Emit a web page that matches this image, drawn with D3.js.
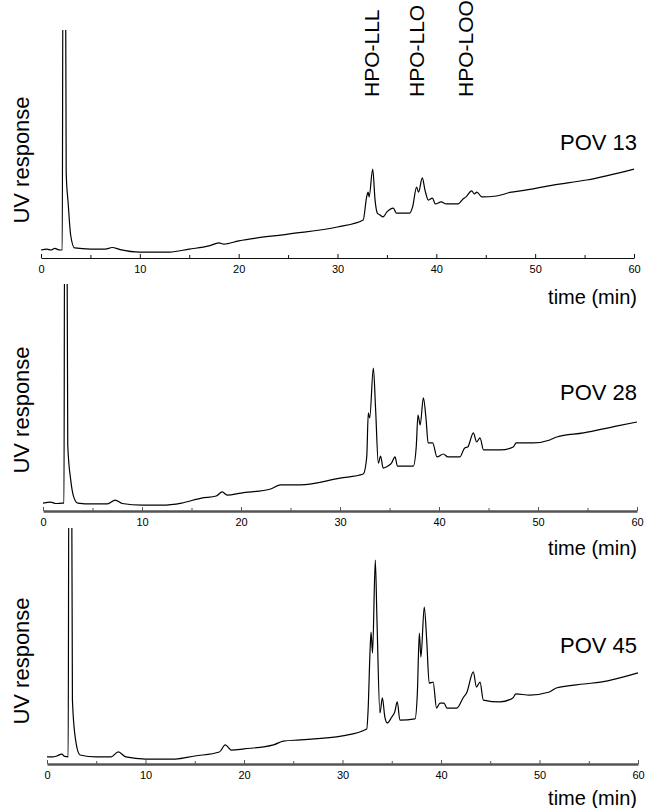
<!DOCTYPE html>
<html>
<head>
<meta charset="utf-8">
<script src="https://cdn.jsdelivr.net/npm/d3@7"></script>
<style>
  body { margin: 0; background: #fff; }
  svg { display: block; font-family: "Liberation Sans", Arial, sans-serif; }
</style>
</head>
<body>
<svg class="chrom"></svg>
<script>
const size = {w: 645, h: 808};

// [retention time (min), UV response (arb. units, 100 = top of panel)]
// the solvent peak near 2.3 min runs off scale, it is clipped like the original
const pov13 = [[0,3.5],[0.6,3.9],[1.0,3.5],[1.4,4.2],[1.8,3.6],[2.15,3.5],[2.22,130],[2.48,130],[2.55,37.3],[2.75,24],
  [3.0,10.1],[3.4,4.4],[5,3.9],[6.5,3.9],[7.2,4.6],[8,3.7],[10,2.6],[13,2.6],[15,3.9],[17,5.3],[18,6.6],[18.5,6.1],
  [20,7.5],[25,10.5],[30,13.6],[32.6,16.7],[32.95,26.8],[33.1,28.9],[33.2,26.8],[33.56,39.0],[33.8,25.4],[34.03,19.7],
  [34.3,18.9],[34.6,18.0],[35.0,20.2],[35.65,21.9],[35.95,19.7],[37.3,19.7],[37.6,22.4],[38.0,31.1],[38.2,28.9],
  [38.58,35.1],[38.85,29.8],[39.2,25.4],[39.6,26.3],[39.9,23.7],[40.5,24.6],[41.0,23.7],[42.2,23.7],[42.7,25.9],
  [43.0,26.8],[43.58,29.4],[43.85,28.1],[44.1,28.9],[44.6,26.8],[46.1,27.2],[47.6,28.9],[48.5,29.4],[51.8,32.0],
  [55.2,34.2],[60,39.0]];

const pov28 = [[0,3.5],[0.8,3.9],[1.3,3.3],[2.0,3.5],[2.12,3.5],[2.18,130],[2.42,130],[2.5,29.1],[2.8,13.7],[3.1,6.2],
  [3.5,3.5],[5,3.1],[6.5,3.1],[7.3,4.8],[8,3.3],[10,2.6],[12,2.6],[14,3.5],[16,5.7],[17.5,6.6],[18.1,8.4],[18.6,7.0],
  [20,7.9],[23,9.7],[24,11.5],[26,11.5],[30,14.5],[32.35,16.3],[32.7,23.8],[32.86,43.2],[33.0,41.0],[33.37,63.0],
  [33.6,44.5],[33.87,21.1],[34.1,24.2],[34.36,18.9],[34.85,19.8],[35.2,21.1],[35.56,23.8],[35.8,19.8],[37.4,19.8],
  [37.7,28.2],[37.88,42.3],[38.1,37.9],[38.42,49.8],[38.7,40.1],[38.9,30.0],[39.36,30.0],[39.8,23.8],[40.44,25.1],
  [40.9,23.8],[42.1,23.8],[42.6,27.8],[42.9,28.2],[43.47,34.4],[43.8,30.4],[44.14,32.2],[44.5,26.9],[46.2,26.9],
  [47.5,28.2],[47.8,30.0],[49.5,30.0],[51.2,31.3],[51.9,32.6],[54.6,34.4],[57.9,37.4],[60,39.2]];

const pov45 = [[0,3.0],[0.6,3.0],[1.0,3.4],[1.5,4.2],[1.8,3.2],[2.15,3.0],[2.22,130],[2.5,130],[2.58,27.1],[2.9,10.2],
  [3.35,3.8],[5,3.0],[6.5,3.0],[7.24,5.1],[8,3.0],[10,2.1],[13,2.1],[15,3.4],[17.5,5.1],[18.1,8.1],[18.7,5.9],
  [20,6.4],[23,8.1],[24,9.7],[25.7,10.2],[30,11.9],[32.46,14.8],[32.6,22.9],[32.8,48.3],[32.9,55.9],[33.05,47.0],
  [33.33,86.4],[33.5,61.0],[33.8,21.6],[34.05,28.0],[34.3,19.9],[34.55,17.4],[35.0,19.9],[35.3,22.0],[35.56,26.3],
  [35.83,18.6],[37.36,19.1],[37.6,30.1],[37.8,55.5],[37.96,45.3],[38.3,66.5],[38.55,52.5],[38.8,34.3],[39.2,34.7],
  [39.55,23.7],[39.9,25.8],[40.3,25.8],[40.6,23.7],[41.6,23.7],[42.3,28.4],[42.6,30.1],[43.28,39.0],[43.6,32.6],
  [43.96,34.7],[44.3,27.1],[46.0,26.3],[47.3,28.0],[47.6,29.7],[49.0,29.2],[51.0,30.5],[51.7,32.2],[54.5,33.9],
  [56.2,34.7],[60,38.6]];

const panelNames = ['POV 13', 'POV 28', 'POV 45'];
const peakNames = ['HPO-LLL', 'HPO-LLO', 'HPO-LOO'];
const peakTimes = [33.4, 38.0, 42.9];
const majorTicks = [0, 10, 20, 30, 40, 50, 60];
const minorTicks = [5, 15, 25, 35, 45, 55];

// pixel layout of the three stacked panels
const panels = [
  {data: pov13, x0: 41, x1: 634, axisY: 258, top: 30,  povY: 150, uvY: 160, timeY: 304, axisW: 1.2, axisC: '#111'},
  {data: pov28, x0: 43, x1: 637, axisY: 511, top: 284, povY: 400, uvY: 410, timeY: 555, axisW: 2.4, axisC: '#555'},
  {data: pov45, x0: 47, x1: 638, axisY: 764, top: 528, povY: 653, uvY: 661, timeY: 805, axisW: 2.4, axisC: '#555'}
];
const peakLabelBottom = 97;

const svg = d3.select('svg.chrom')
  .attr('width', size.w)
  .attr('height', size.h);

panels.forEach((p, i) => {
  const g = svg.append('g').classed('panel', true);

  const x = d3.scaleLinear().domain([0, 60]).range([p.x0, p.x1]);
  const y = d3.scaleLinear().domain([0, 100]).range([p.axisY, p.top]);

  // clip so the big solvent peak is cut at the panel top
  g.append('clipPath').attr('id', 'clip' + i)
    .append('rect')
    .attr('x', p.x0 - 2).attr('y', p.top)
    .attr('width', p.x1 - p.x0 + 4).attr('height', p.axisY - p.top);

  const line = d3.line()
    .x(d => x(d[0]))
    .y(d => y(d[1]))
    .curve(d3.curveMonotoneX);

  g.append('path')
    .datum(p.data)
    .attr('clip-path', `url(#clip${i})`)
    .attr('d', line)
    .attr('fill', 'none')
    .attr('stroke', '#000')
    .attr('stroke-width', 1.2)
    .attr('stroke-linejoin', 'round');

  // minor ticks (no labels)
  const minor = g.append('g')
    .attr('transform', `translate(0,${p.axisY})`)
    .call(d3.axisBottom(x).tickValues(minorTicks).tickSizeInner(-3).tickSizeOuter(0).tickFormat(''));
  minor.select('.domain').remove();
  minor.selectAll('line').attr('stroke', p.axisC);

  // main axis, ticks pointing up into the plot
  const axis = g.append('g')
    .attr('transform', `translate(0,${p.axisY})`)
    .call(d3.axisBottom(x).tickValues(majorTicks).tickSizeInner(-4).tickSizeOuter(0).tickPadding(7));
  axis.select('.domain').attr('stroke', p.axisC).attr('stroke-width', p.axisW);
  axis.selectAll('line').attr('stroke', p.axisC);
  axis.selectAll('text')
    .attr('font-family', '"Liberation Sans", Arial, sans-serif')
    .attr('font-size', 11)
    .attr('fill', '#000');

  g.append('text')
    .attr('x', 637).attr('y', p.timeY)
    .attr('text-anchor', 'end')
    .attr('font-size', 20)
    .text('time (min)');

  g.append('text')
    .attr('transform', `translate(29,${p.uvY}) rotate(-90)`)
    .attr('text-anchor', 'middle')
    .attr('font-size', 22)
    .text('UV response');

  g.append('text')
    .attr('x', 637).attr('y', p.povY)
    .attr('text-anchor', 'end')
    .attr('font-size', 22)
    .text(panelNames[i]);

  // peak names only on the top panel
  if (i === 0) {
    g.selectAll('text.peak')
      .data(peakNames)
      .join('text')
      .classed('peak', true)
      .attr('transform', (d, k) => `translate(${x(peakTimes[k])},${peakLabelBottom}) rotate(-90)`)
      .attr('dy', '0.36em')
      .attr('text-anchor', 'start')
      .attr('font-size', 21)
      .text(d => d);
  }
});
</script>
</body>
</html>
